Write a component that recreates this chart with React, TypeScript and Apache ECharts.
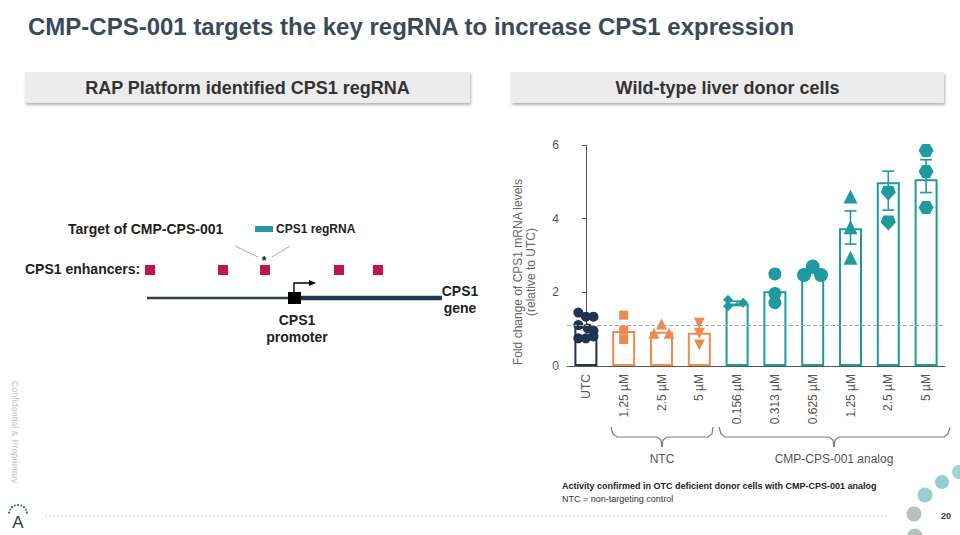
import React, { useEffect, useRef } from "react";
import * as echarts from "echarts";

// ---- data ----
const categories = ["UTC", "1.25 µM", "2.5 µM", "5 µM", "0.156 µM", "0.313 µM", "0.625 µM", "1.25 µM", "2.5 µM", "5 µM"];
const groups = ["utc", "ntc", "ntc", "ntc", "cmp", "cmp", "cmp", "cmp", "cmp", "cmp"];
const barMeans = [1.07, 0.95, 0.93, 0.9, 1.7, 2.03, 2.55, 3.74, 4.99, 5.07];
const errLow = [null, null, null, null, 1.64, null, null, 3.31, 4.23, 4.71];
const errHigh = [null, null, null, null, 1.76, null, null, 4.21, 5.29, 5.6];
const utcRef = 1.1;

const utcVals = [1.45, 1.34, 1.34, 1.11, 1.02, 0.95, 0.75, 0.75, 0.8];
const utcJit = [-0.2, 0, 0.2, -0.2, 0.05, 0.2, -0.2, 0, 0.2];
const ntc125Vals = [1.38, 0.97, 0.72];
const ntc25Vals = [1.14, 0.89, 0.89];
const ntc25Jit = [0, -0.2, 0.2];
const ntc5Vals = [1.16, 0.89, 0.57];
const cmp0156Vals = [1.8, 1.62, 1.72];
const cmp0156Jit = [-0.24, -0.24, 0.16];
const cmp0313Vals = [2.5, 1.97, 1.72];
const cmp0625Vals = [2.47, 2.7, 2.47];
const cmp0625Jit = [-0.23, 0, 0.22];
const cmp125Vals = [4.6, 3.77, 2.94];
const cmp25Vals = [6.07, 4.69, 3.88];
const cmp5Vals = [5.85, 5.28, 4.3];

const yTicks = { min: 0, max: 6, interval: 2 };

const NAVY = "#1f3450";
const ORANGE = "#ef8a4f";
const TEAL = "#1f9a9e";
const colorOf: Record<string, string> = { utc: NAVY, ntc: ORANGE, cmp: TEAL };
const FONT = "Liberation Sans, Arial, sans-serif";

const PENT_DOWN = "path://M2,0 L10,0 L12,5 L6,11 L0,5 Z";
const HEX = "path://M3,0 L9,0 L12,5 L9,10 L3,10 L0,5 Z";

function pts(idx: number, vals: number[], jit?: number[]) {
  return vals.map((v, k) => [idx + (jit ? jit[k] : 0), v]);
}

export default function App() {
  const ref = useRef<HTMLDivElement>(null);
  useEffect(() => {
    if (!ref.current) return;
    const chart = echarts.init(ref.current, undefined, { renderer: "svg" });

    const scatterDefs = [
      { data: pts(0, utcVals, utcJit), symbol: "circle", size: 10, color: NAVY },
      { data: pts(1, ntc125Vals), symbol: "rect", size: 9, color: ORANGE },
      { data: pts(2, ntc25Vals, ntc25Jit), symbol: "triangle", size: 11, color: ORANGE },
      { data: pts(3, ntc5Vals), symbol: "triangle", size: 11, color: ORANGE, rotate: 180 },
      { data: pts(4, cmp0156Vals, cmp0156Jit), symbol: "diamond", size: 10, color: TEAL },
      { data: pts(5, cmp0313Vals), symbol: "circle", size: 13, color: TEAL },
      { data: pts(6, cmp0625Vals, cmp0625Jit), symbol: "circle", size: 14, color: TEAL },
      { data: pts(7, cmp125Vals), symbol: "triangle", size: 14, color: TEAL },
      { data: pts(8, cmp25Vals), symbol: PENT_DOWN, size: 15, color: TEAL },
      { data: pts(9, cmp5Vals), symbol: HEX, size: [15, 13], color: TEAL },
    ];

    const errData = categories
      .map((_, i) => (errLow[i] != null ? [i, errLow[i], errHigh[i], i] : null))
      .filter((d) => d !== null);

    // decorative elements
    const logoDots: any[] = [];
    for (let k = 0; k < 9; k++) {
      const a = Math.PI * (1.05 + (0.9 * k) / 8);
      logoDots.push({
        type: "circle",
        shape: { cx: 18 + 9 * Math.cos(a), cy: 514 + 9 * Math.sin(a), r: 1.2 },
        style: { fill: k % 2 ? "#4aa9a6" : "#5a6b78" },
      });
    }

    const bracketStyle = { stroke: "#7a7a7a", lineWidth: 1.2, fill: "none" };

    const option: any = {
      animation: false,
      backgroundColor: "#ffffff",
      textStyle: { fontFamily: FONT },
      grid: { left: 567, right: 15, top: 145, bottom: 169, containLabel: false },
      xAxis: [
        {
          type: "category",
          data: categories,
          axisLine: { lineStyle: { color: "#555", width: 1 } },
          axisTick: { show: false },
          axisLabel: { rotate: 90, color: "#555", fontSize: 12, margin: 8, fontFamily: FONT, interval: 0 },
        },
        { type: "value", min: -0.5, max: 9.5, show: false },
      ],
      yAxis: {
        type: "value",
        min: yTicks.min,
        max: yTicks.max,
        interval: yTicks.interval,
        axisLine: { show: true, lineStyle: { color: "#555", width: 1 } },
        axisTick: { show: true, length: 4, lineStyle: { color: "#555" } },
        splitLine: { show: false },
        axisLabel: { color: "#555", fontSize: 12, margin: 8, fontFamily: FONT },
      },
      series: [
        {
          type: "bar",
          xAxisIndex: 0,
          barWidth: 23,
          data: barMeans.map((v, i) => ({
            value: v,
            itemStyle: { color: "#ffffff", borderColor: colorOf[groups[i]], borderWidth: 2 },
          })),
          markLine: {
            silent: true,
            symbol: ["none", "none"],
            label: { show: false },
            lineStyle: { type: "dashed", color: "#a8a8a8", width: 1 },
            data: [{ yAxis: utcRef }],
          },
          z: 2,
        },
        ...scatterDefs.map((s) => ({
          type: "scatter",
          xAxisIndex: 1,
          symbol: s.symbol,
          symbolSize: s.size,
          symbolRotate: (s as any).rotate || 0,
          itemStyle: { color: s.color, opacity: 1 },
          data: s.data,
          z: 3,
        })),
        {
          type: "custom",
          xAxisIndex: 0,
          z: 4,
          data: errData,
          renderItem: (params: any, api: any) => {
            const x = api.value(0);
            const p1 = api.coord([x, api.value(1)]);
            const p2 = api.coord([x, api.value(2)]);
            const c = colorOf[groups[api.value(3)]];
            const w = 6;
            const st = { stroke: c, lineWidth: 1.6 };
            return {
              type: "group",
              children: [
                { type: "line", shape: { x1: p1[0], y1: p1[1], x2: p2[0], y2: p2[1] }, style: st },
                { type: "line", shape: { x1: p1[0] - w, y1: p1[1], x2: p1[0] + w, y2: p1[1] }, style: st },
                { type: "line", shape: { x1: p2[0] - w, y1: p2[1], x2: p2[0] + w, y2: p2[1] }, style: st },
              ],
            };
          },
        },
      ],
      graphic: [
        // title
        {
          type: "text", x: 28, y: 26,
          style: { text: "CMP-CPS-001 targets the key regRNA to increase CPS1 expression", fill: "#3b4a5a", font: `bold 24px ${FONT}`, verticalAlign: "middle" },
        },
        // header boxes
        { type: "rect", shape: { x: 25, y: 72, width: 445, height: 31 }, style: { fill: "#ececec", shadowBlur: 3, shadowOffsetX: 1, shadowOffsetY: 2, shadowColor: "rgba(0,0,0,0.3)" } },
        { type: "rect", shape: { x: 511, y: 72, width: 433, height: 31 }, style: { fill: "#ececec", shadowBlur: 3, shadowOffsetX: 1, shadowOffsetY: 2, shadowColor: "rgba(0,0,0,0.3)" } },
        { type: "text", x: 247.5, y: 88, style: { text: "RAP Platform identified CPS1 regRNA", fill: "#333", font: `bold 18px ${FONT}`, align: "center", verticalAlign: "middle" } },
        { type: "text", x: 727.5, y: 88, style: { text: "Wild-type liver donor cells", fill: "#333", font: `bold 18px ${FONT}`, align: "center", verticalAlign: "middle" } },
        // y axis title
        {
          type: "text", x: 524, y: 272, rotation: Math.PI / 2,
          style: { text: "Fold change of CPS1 mRNA levels\n(relative to UTC)", fill: "#666", font: `12px ${FONT}`, align: "center", verticalAlign: "middle", lineHeight: 13 },
        },
        // brackets
        { type: "polyline", shape: { points: [[611, 427], [613, 434], [617, 437], [657, 437], [661, 440], [662, 447]] }, style: bracketStyle },
        { type: "polyline", shape: { points: [[662, 447], [663, 440], [667, 437], [708, 437], [712, 434], [713, 427]] }, style: bracketStyle },
        { type: "polyline", shape: { points: [[719, 427], [721, 434], [725, 437], [829, 437], [833, 440], [834, 447]] }, style: bracketStyle },
        { type: "polyline", shape: { points: [[834, 447], [835, 440], [839, 437], [944, 437], [948, 434], [950, 427]] }, style: bracketStyle },
        { type: "text", x: 662, y: 459, style: { text: "NTC", fill: "#555", font: `12px ${FONT}`, align: "center", verticalAlign: "middle" } },
        { type: "text", x: 834, y: 459, style: { text: "CMP-CPS-001 analog", fill: "#555", font: `12px ${FONT}`, align: "center", verticalAlign: "middle" } },
        // footer notes
        { type: "text", x: 562, y: 486, style: { text: "Activity confirmed in OTC deficient donor cells with CMP-CPS-001 analog", fill: "#222", font: `bold 9px ${FONT}`, verticalAlign: "middle" } },
        { type: "text", x: 562, y: 499, style: { text: "NTC = non-targeting control", fill: "#333", font: `9px ${FONT}`, verticalAlign: "middle" } },
        // diagram
        { type: "text", x: 68, y: 229, style: { text: "Target of CMP-CPS-001", fill: "#222", font: `bold 14px ${FONT}`, verticalAlign: "middle" } },
        { type: "rect", shape: { x: 255, y: 226, width: 18, height: 6 }, style: { fill: "#1e9aa0" } },
        { type: "text", x: 276, y: 229, style: { text: "CPS1 regRNA", fill: "#222", font: `bold 12px ${FONT}`, verticalAlign: "middle" } },
        { type: "line", shape: { x1: 235, y1: 246, x2: 258, y2: 257 }, style: { stroke: "#aaa", lineWidth: 1 } },
        { type: "line", shape: { x1: 272, y1: 257, x2: 290, y2: 246 }, style: { stroke: "#aaa", lineWidth: 1 } },
        { type: "text", x: 264, y: 261, style: { text: "*", fill: "#222", font: `bold 12px ${FONT}`, align: "center", verticalAlign: "middle" } },
        { type: "text", x: 25, y: 269, style: { text: "CPS1 enhancers:", fill: "#222", font: `bold 14px ${FONT}`, verticalAlign: "middle" } },
        ...[150, 223, 265, 339, 378].map((cx) => ({
          type: "rect", shape: { x: cx - 5, y: 265, width: 10, height: 10 }, style: { fill: "#c2134f" },
        })),
        { type: "line", shape: { x1: 147, y1: 298, x2: 290, y2: 298 }, style: { stroke: "#2e3f4f", lineWidth: 2.5 } },
        { type: "line", shape: { x1: 298, y1: 298, x2: 442, y2: 298 }, style: { stroke: "#26394a", lineWidth: 4.5 } },
        { type: "rect", shape: { x: 288, y: 292, width: 13, height: 12 }, style: { fill: "#000" } },
        { type: "polyline", shape: { points: [[294, 292], [294, 283], [310, 283]] }, style: { stroke: "#000", lineWidth: 1.4, fill: "none" } },
        { type: "polygon", shape: { points: [[309, 280], [316, 283], [309, 286]] }, style: { fill: "#000" } },
        { type: "text", x: 297, y: 328, style: { text: "CPS1\npromoter", fill: "#222", font: `bold 14px ${FONT}`, align: "center", verticalAlign: "middle", lineHeight: 17 } },
        { type: "text", x: 460, y: 299, style: { text: "CPS1\ngene", fill: "#222", font: `bold 14px ${FONT}`, align: "center", verticalAlign: "middle", lineHeight: 17 } },
        // side text & footer line
        { type: "text", x: 15, y: 432, rotation: -Math.PI / 2, style: { text: "Confidential & Proprietary", fill: "#c4c4c4", font: `9px ${FONT}`, align: "center", verticalAlign: "middle" } },
        { type: "line", shape: { x1: 45, y1: 516, x2: 888, y2: 516 }, style: { stroke: "#cfcfcf", lineWidth: 1, lineDash: [2, 2] } },
        { type: "text", x: 946, y: 516, style: { text: "20", fill: "#333", font: `bold 9px ${FONT}`, align: "center", verticalAlign: "middle" } },
        // logo
        { type: "text", x: 18, y: 522, style: { text: "A", fill: "#2f3b48", font: `17px ${FONT}`, align: "center", verticalAlign: "middle" } },
        ...logoDots,
        // decorative circles
        { type: "circle", shape: { cx: 959, cy: 472, r: 7 }, style: { fill: "#9fd6d4" } },
        { type: "circle", shape: { cx: 942, cy: 482, r: 7 }, style: { fill: "#8fcfcc" } },
        { type: "circle", shape: { cx: 925, cy: 495, r: 7.5 }, style: { fill: "#97cfcd" } },
        { type: "circle", shape: { cx: 914, cy: 514, r: 7.5 }, style: { fill: "#b7bfbf" } },
        { type: "circle", shape: { cx: 915, cy: 536, r: 7.5 }, style: { fill: "#b7bfbf" } },
      ],
    };

    chart.setOption(option);
    return () => chart.dispose();
  }, []);

  return (
    <div
      ref={ref}
      style={{ position: "fixed", left: 0, top: 0, width: 960, height: 535, background: "#fff" }}
    />
  );
}
